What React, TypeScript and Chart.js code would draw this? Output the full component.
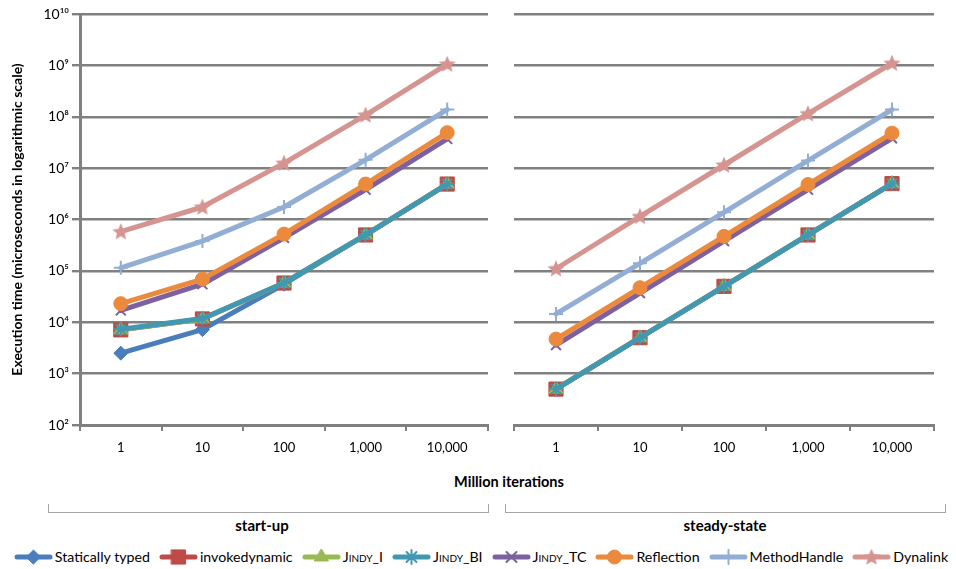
import React, { useEffect, useRef } from 'react';
import { Chart, registerables } from 'chart.js';
import { drawPoint } from 'chart.js/helpers';

Chart.register(...registerables);

const FONT = 'Lato, "Open Sans", sans-serif';

// ---------- data ----------
const categories = ['1', '10', '100', '1,000', '10,000'];
const yTickExponents = [2, 3, 4, 5, 6, 7, 8, 9, 10];
const yMin = 1e2;
const yMax = 1e10;

const seriesNames = [
  'Statically typed',
  'invokedynamic',
  'Jindy_I',
  'Jindy_BI',
  'Jindy_TC',
  'Reflection',
  'MethodHandle',
  'Dynalink',
];

// start-up
const staticTypedStartup = [2.5e3, 7.2e3, 5.5e4, 5.0e5, 4.9e6];
const invokedynamicStartup = [7.1e3, 1.16e4, 5.8e4, 5.0e5, 4.9e6];
const jindyIStartup = [7.1e3, 1.16e4, 5.8e4, 5.0e5, 4.9e6];
const jindyBIStartup = [7.3e3, 1.18e4, 5.8e4, 5.0e5, 4.9e6];
const jindyTCStartup = [1.7e4, 5.5e4, 4.4e5, 3.8e6, 3.7e7];
const reflectionStartup = [2.3e4, 6.9e4, 5.2e5, 4.9e6, 4.9e7];
const methodHandleStartup = [1.15e5, 3.8e5, 1.75e6, 1.45e7, 1.38e8];
const dynalinkStartup = [5.8e5, 1.75e6, 1.25e7, 1.08e8, 1.06e9];

// steady-state
const staticTypedSteady = [5.0e2, 5.0e3, 5.0e4, 5.0e5, 5.0e6];
const invokedynamicSteady = [5.0e2, 5.0e3, 5.0e4, 5.0e5, 5.0e6];
const jindyISteady = [5.0e2, 5.0e3, 5.0e4, 5.0e5, 5.0e6];
const jindyBISteady = [5.0e2, 5.0e3, 5.0e4, 5.0e5, 5.0e6];
const jindyTCSteady = [3.6e3, 3.7e4, 3.8e5, 3.8e6, 3.8e7];
const reflectionSteady = [4.7e3, 4.7e4, 4.7e5, 4.8e6, 4.8e7];
const methodHandleSteady = [1.45e4, 1.4e5, 1.38e6, 1.4e7, 1.38e8];
const dynalinkSteady = [1.1e5, 1.15e6, 1.15e7, 1.15e8, 1.1e9];

const startupValues = [
  staticTypedStartup, invokedynamicStartup, jindyIStartup, jindyBIStartup,
  jindyTCStartup, reflectionStartup, methodHandleStartup, dynalinkStartup,
];
const steadyValues = [
  staticTypedSteady, invokedynamicSteady, jindyISteady, jindyBISteady,
  jindyTCSteady, reflectionSteady, methodHandleSteady, dynalinkSteady,
];

// ---------- styles ----------
const seriesStyles = [
  { color: '#4A7EBB', pointStyle: 'rectRot', radius: 7, bw: 1 },
  { color: '#BE4B48', pointStyle: 'rect', radius: 10, bw: 1 },
  { color: '#98B954', pointStyle: 'triangle', radius: 8, bw: 1 },
  { color: '#4198B0', pointStyle: 'star', radius: 7, bw: 2 },
  { color: '#7D60A0', pointStyle: 'crossRot', radius: 7, bw: 2 },
  { color: '#EB8A3C', pointStyle: 'circle', radius: 7, bw: 1 },
  { color: '#92AED4', pointStyle: 'cross', radius: 7, bw: 2 },
  { color: '#D69491', pointStyle: 'star5', radius: 9, bw: 1 },
];

const GRID = '#808080';
const SUP: Record<string, string> = {
  '0': '\u2070', '1': '\u00b9', '2': '\u00b2', '3': '\u00b3', '4': '\u2074',
  '5': '\u2075', '6': '\u2076', '7': '\u2077', '8': '\u2078', '9': '\u2079',
};
const sup = (n: number) => String(n).split('').map((c) => SUP[c]).join('');

function makeStar(color: string, R: number) {
  const size = Math.ceil(R * 2 + 2);
  const c = document.createElement('canvas');
  c.width = size;
  c.height = size;
  const ctx = c.getContext('2d')!;
  const cx = size / 2;
  const cy = size / 2 + 0.5;
  const r = R * 0.45;
  ctx.beginPath();
  for (let k = 0; k < 10; k++) {
    const rad = k % 2 === 0 ? R : r;
    const a = -Math.PI / 2 + (k * Math.PI) / 5;
    const x = cx + rad * Math.cos(a);
    const y = cy + rad * Math.sin(a);
    if (k === 0) ctx.moveTo(x, y);
    else ctx.lineTo(x, y);
  }
  ctx.closePath();
  ctx.fillStyle = color;
  ctx.fill();
  return c;
}

function resolvePointStyle(s: any): any {
  if (s.pointStyle === 'star5') return makeStar(s.color, s.radius);
  return s.pointStyle;
}

function Panel({ values, showYAxis, left, width }: { values: number[][]; showYAxis: boolean; left: number; width: number }) {
  const ref = useRef<HTMLCanvasElement>(null);
  useEffect(() => {
    const n = seriesNames.length;
    const datasets = values.map((data, i) => {
      const s = seriesStyles[i];
      return {
        label: seriesNames[i],
        data,
        order: n - 1 - i,
        borderColor: s.color,
        backgroundColor: s.color,
        borderWidth: 5,
        borderJoinStyle: 'round',
        borderCapStyle: 'round',
        tension: 0,
        pointStyle: resolvePointStyle(s),
        pointRadius: s.radius,
        pointBackgroundColor: s.color,
        pointBorderColor: s.color,
        pointBorderWidth: s.bw,
      };
    });
    const chart = new Chart(ref.current!, {
      type: 'line',
      data: { labels: categories, datasets: datasets as any },
      options: {
        animation: false,
        responsive: false,
        maintainAspectRatio: false,
        layout: { padding: { top: 14, right: 2, left: showYAxis ? 0 : 2, bottom: 0 } },
        plugins: { legend: { display: false }, tooltip: { enabled: false } },
        scales: {
          x: {
            type: 'category',
            offset: true,
            grid: { offset: true, drawOnChartArea: false, drawTicks: true, tickLength: 6, color: GRID, lineWidth: 2 },
            border: { color: GRID, width: 3 },
            ticks: { font: { family: FONT, size: 13 }, color: '#000', padding: 9, maxRotation: 0, autoSkip: false },
            afterFit: (s: any) => { s.height = 45; },
          },
          y: {
            type: 'logarithmic',
            min: yMin,
            max: yMax,
            afterBuildTicks: (s: any) => { s.ticks = yTickExponents.map((e) => ({ value: Math.pow(10, e) })); },
            grid: { color: GRID, lineWidth: 2.4, drawTicks: showYAxis, tickLength: 8 },
            border: { display: showYAxis, color: GRID, width: 3 },
            ticks: {
              display: showYAxis,
              font: { family: FONT, size: 14 },
              color: '#000',
              padding: 3,
              callback: (v: any) => '10' + sup(Math.round(Math.log10(Number(v)))),
            },
            title: {
              display: showYAxis,
              text: 'Execution time (microseconds in logarithmic scale)',
              font: { family: FONT, size: 14, weight: 'bold' },
              color: '#000',
              padding: { top: 9, bottom: 0 },
            },
            afterFit: (s: any) => { s.width = showYAxis ? 80 : 0; },
          },
        },
      } as any,
    });
    return () => chart.destroy();
  }, []);
  return (
    <canvas
      ref={ref}
      width={width}
      height={470}
      style={{ position: 'absolute', left, top: 0, width, height: 470 }}
    />
  );
}

function LegendIcon({ index }: { index: number }) {
  const ref = useRef<HTMLCanvasElement>(null);
  useEffect(() => {
    const c = ref.current!;
    const ctx = c.getContext('2d')!;
    ctx.clearRect(0, 0, c.width, c.height);
    const s = seriesStyles[index];
    ctx.strokeStyle = s.color;
    ctx.fillStyle = s.color;
    ctx.lineWidth = 5;
    ctx.lineCap = 'round';
    ctx.beginPath();
    ctx.moveTo(3, 8);
    ctx.lineTo(36, 8);
    ctx.stroke();
    ctx.lineWidth = s.bw;
    drawPoint(ctx, { pointStyle: resolvePointStyle(s), radius: s.radius, borderWidth: s.bw, rotation: 0 } as any, 19.5, 8);
  }, []);
  return <canvas ref={ref} width={39} height={16} style={{ width: 39, height: 16, display: 'block' }} />;
}

function legendText(name: string) {
  if (name.startsWith('Jindy')) {
    return <span style={{ fontVariant: 'small-caps' }}>{name}</span>;
  }
  return name;
}

export default function App() {
  return (
    <div style={{ position: 'absolute', left: 0, top: 0, width: 956, height: 569, background: '#fff', fontFamily: FONT, color: '#000', overflow: 'hidden' }}>
      <Panel values={startupValues} showYAxis={true} left={0} width={499} />
      <Panel values={steadyValues} showYAxis={false} left={503} width={442} />

      <div style={{ position: 'absolute', left: 409, top: 473, width: 200, textAlign: 'center', fontWeight: 'bold', fontSize: 14.5, lineHeight: '18px' }}>
        Million iterations
      </div>

      <div style={{ position: 'absolute', left: 48, top: 504, width: 439, height: 8, border: '1px solid #A6A6A6', borderTop: 'none' }} />
      <div style={{ position: 'absolute', left: 505, top: 504, width: 439, height: 8, border: '1px solid #A6A6A6', borderTop: 'none' }} />

      <div style={{ position: 'absolute', left: 162, top: 516, width: 200, textAlign: 'center', fontWeight: 'bold', fontSize: 15, lineHeight: '19px' }}>
        start-up
      </div>
      <div style={{ position: 'absolute', left: 625, top: 516, width: 200, textAlign: 'center', fontWeight: 'bold', fontSize: 15, lineHeight: '19px' }}>
        steady-state
      </div>

      <div style={{ position: 'absolute', left: 0, top: 549, width: 962, display: 'flex', justifyContent: 'center', alignItems: 'center', fontSize: 14.2, lineHeight: '16px', whiteSpace: 'nowrap' }}>
        {seriesNames.map((name, i) => (
          <div key={name} style={{ display: 'flex', alignItems: 'center', marginRight: i < seriesNames.length - 1 ? 9 : 0 }}>
            <LegendIcon index={i} />
            <span style={{ marginLeft: 2 }}>{legendText(name)}</span>
          </div>
        ))}
      </div>
    </div>
  );
}
